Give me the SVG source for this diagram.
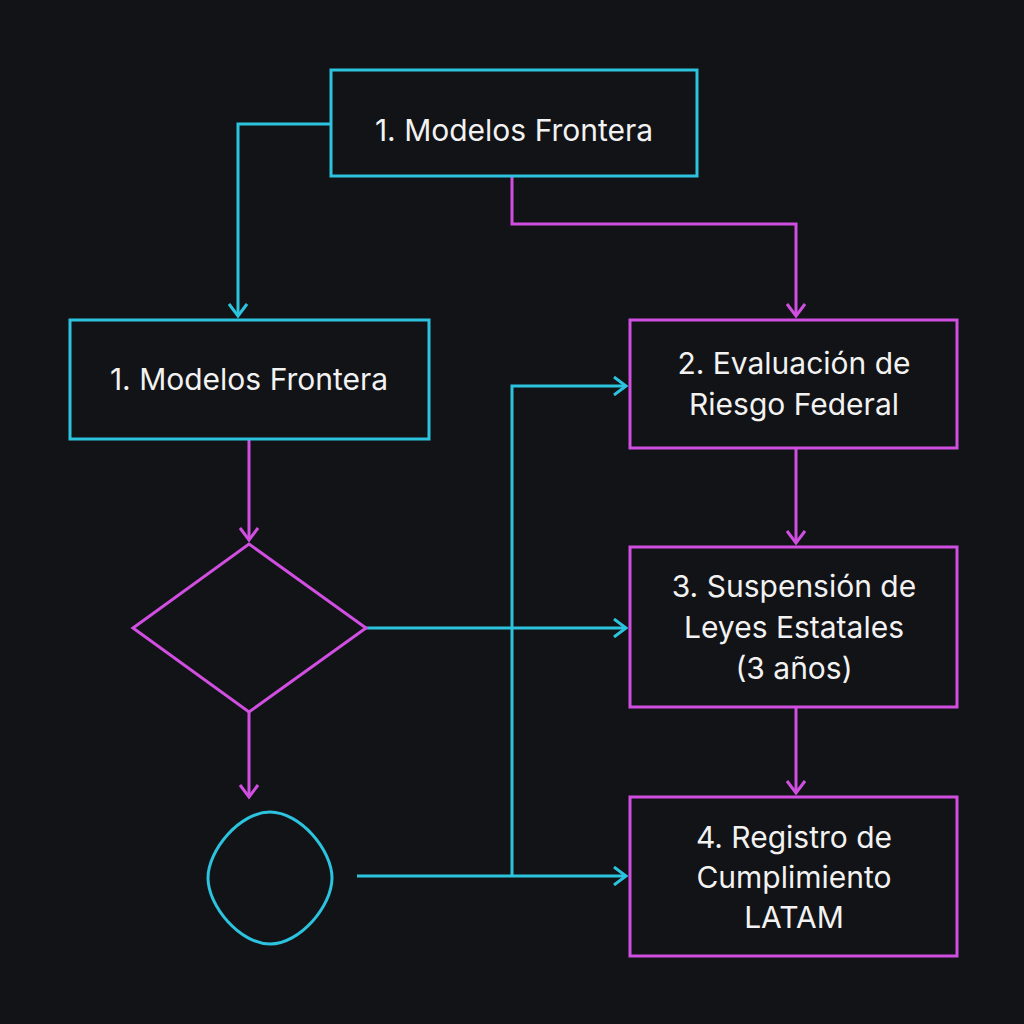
<svg xmlns="http://www.w3.org/2000/svg" width="1024" height="1024" viewBox="0 0 1024 1024">
<style>
.c{stroke:#2cc3de;fill:none;stroke-width:3}
.m{stroke:#d04fe0;fill:none;stroke-width:3}
text{font-family:"Inter","Liberation Sans",sans-serif;font-size:30px;fill:#f2f2f2;text-anchor:middle}
</style>
<defs>
<marker id="ac" markerWidth="20" markerHeight="20" refX="15" refY="10" orient="auto" markerUnits="userSpaceOnUse"><path d="M3,1 L15,10 L3,19" fill="none" stroke="#2cc3de" stroke-width="3"/></marker>
<marker id="am" markerWidth="20" markerHeight="20" refX="15" refY="10" orient="auto" markerUnits="userSpaceOnUse"><path d="M3,1 L15,10 L3,19" fill="none" stroke="#d04fe0" stroke-width="3"/></marker>
</defs>
<rect width="1024" height="1024" fill="#121316"/>
<g id="connectors">
<path class="c" d="M331,124 H238 V316" marker-end="url(#ac)"/>
<path class="m" d="M512,176 V224 H796 V316" marker-end="url(#am)"/>
<path class="m" d="M249,439 V540" marker-end="url(#am)"/>
<path class="m" d="M249,712 V797" marker-end="url(#am)"/>
<path class="c" d="M366,628 H626" marker-end="url(#ac)"/>
<path class="c" d="M357,876 H626" marker-end="url(#ac)"/>
<path class="c" d="M512,876 V386 H626" marker-end="url(#ac)"/>
<path class="m" d="M796,448 V543" marker-end="url(#am)"/>
<path class="m" d="M796,707 V793" marker-end="url(#am)"/>
</g>
<g id="n1"><rect class="c" x="331" y="70" width="366" height="106"/><text x="514" y="141">1. Modelos Frontera</text></g>
<g id="n1b"><rect class="c" x="70" y="320" width="359" height="119"/><text x="249" y="390">1. Modelos Frontera</text></g>
<g id="n2"><rect class="m" x="630" y="320" width="327" height="128"/><text x="794" y="374">2. Evaluación de</text><text x="794" y="415">Riesgo Federal</text></g>
<g id="n3"><rect class="m" x="630" y="547" width="327" height="160"/><text x="794" y="597">3. Suspensión de</text><text x="794" y="638">Leyes Estatales</text><text x="794" y="679">(3 años)</text></g>
<g id="n4"><rect class="m" x="630" y="797" width="327" height="159"/><text x="794" y="848">4. Registro de</text><text x="794" y="888">Cumplimiento</text><text x="794" y="928">LATAM</text></g>
<g id="d1"><path class="m" d="M249,544 L366,628 L249,712 L133,628 Z"/></g>
<g id="o1"><path class="c" d="M270,812 C300,812 332,850 332,878 C332,906 300,944 270,944 C240,944 208,906 208,878 C208,850 240,812 270,812 Z"/></g>
</svg>
